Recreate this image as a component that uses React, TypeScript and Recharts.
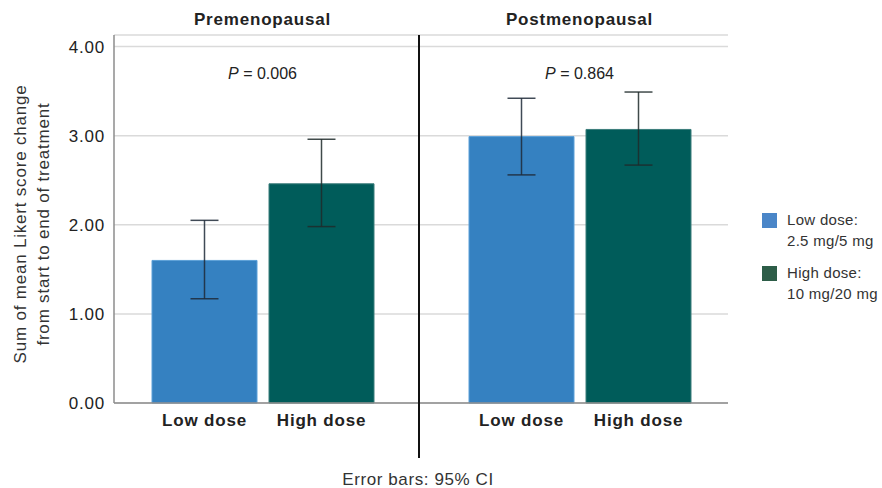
import { BarChart, Bar, XAxis, YAxis, CartesianGrid, ErrorBar, LabelList, Legend, ReferenceDot, ReferenceLine } from "recharts";

const groups = ["Premenopausal", "Postmenopausal"];
const doseLabels = ["Low dose", "High dose"];
const doseDetails = ["2.5 mg/5 mg", "10 mg/20 mg"];
const lowMeans = [1.6, 2.99];
const lowCiLower = [1.17, 2.56];
const lowCiUpper = [2.05, 3.42];
const highMeans = [2.46, 3.07];
const highCiLower = [1.98, 2.67];
const highCiUpper = [2.96, 3.49];
const pValues = ["0.006", "0.864"];
const yTicks = [0, 1, 2, 3, 4];
const yMax = 4.13;
const pLabelY = 3.7;

const FONT = "'Liberation Sans', Arial, Helvetica, sans-serif";
const barColors = ["#3581c1", "#005c5a"];
const barEdges = ["#5b9fd8", "#3b7d7b"];
const legendColors = ["#4a86c8", "#2d5d48"];

const data = groups.map((group, i) => ({
  group,
  low: lowMeans[i],
  lowErr: [lowMeans[i] - lowCiLower[i], lowCiUpper[i] - lowMeans[i]],
  high: highMeans[i],
  highErr: [highMeans[i] - highCiLower[i], highCiUpper[i] - highMeans[i]],
}));

function GroupTick(props: any) {
  const { x, y, payload } = props;
  return (
    <text x={x} y={y - 10} textAnchor="middle" fontFamily={FONT} fontSize={17} fontWeight="bold" fill="#222" style={{ letterSpacing: 0.8 }}>
      {payload.value}
    </text>
  );
}

const doseLabel = (text: string) => (props: any) => {
  const vb = props.viewBox ?? props;
  const x = Number(vb.x);
  const y = Number(vb.y);
  const w = Number(vb.width);
  const h = Number(vb.height);
  return (
    <text x={x + w / 2} y={y + h + 23} textAnchor="middle" fontFamily={FONT} fontSize={17} fontWeight="bold" fill="#222" style={{ letterSpacing: 0.8 }}>
      {text}
    </text>
  );
};

const pLabel = (p: string) => (props: any) => {
  const vb = props.viewBox;
  const cx = vb.x + vb.width / 2;
  const cy = vb.y + vb.height / 2;
  return (
    <text x={cx} y={cy + 5.5} textAnchor="middle" fontFamily={FONT} fontSize={16} fill="#222">
      <tspan fontStyle="italic">P</tspan> = {p}
    </text>
  );
};

function YLabel() {
  const cy = 224;
  const style = { letterSpacing: 0.8 };
  return (
    <g fontFamily={FONT} fontSize={17} fill="#333">
      <text x={20} y={cy} textAnchor="middle" dominantBaseline="central" transform={`rotate(-90 20 ${cy})`} style={style}>
        Sum of mean Likert score change
      </text>
      <text x={43} y={cy} textAnchor="middle" dominantBaseline="central" transform={`rotate(-90 43 ${cy})`} style={style}>
        from start to end of treatment
      </text>
    </g>
  );
}

function LegendBox() {
  return (
    <div style={{ fontFamily: FONT, fontSize: 15, color: "#333", letterSpacing: 0.3 }}>
      {doseLabels.map((label, i) => (
        <div key={label} style={{ display: "flex", alignItems: "flex-start", marginBottom: 11 }}>
          <div style={{ width: 15, height: 15, background: legendColors[i], marginTop: 4, marginRight: 10, flexShrink: 0 }} />
          <div style={{ lineHeight: "21px" }}>
            {label}:
            <br />
            {doseDetails[i]}
          </div>
        </div>
      ))}
    </div>
  );
}

export default function App() {
  return (
    <div style={{ position: "absolute", left: 0, top: 0, width: 882, height: 488, background: "#fff" }}>
      <BarChart
        width={882}
        height={488}
        data={data}
        margin={{ top: 0, right: 154, bottom: 85, left: 0 }}
        barSize={105}
        barGap={12}
      >
        <CartesianGrid vertical={false} stroke="#dadada" strokeWidth={1.5} />
        <XAxis
          dataKey="group"
          orientation="top"
          height={35}
          axisLine={false}
          tickLine={false}
          tickSize={0}
          tickMargin={0}
          padding={{ left: -10, right: -10 }}
          tick={<GroupTick />}
        />
        <YAxis
          width={114}
          domain={[0, yMax]}
          ticks={yTicks}
          tickFormatter={(v: number) => v.toFixed(2)}
          tickLine={false}
          tickSize={0}
          tickMargin={9}
          axisLine={{ stroke: "#8c8c8c", strokeWidth: 1.5 }}
          tick={{ fontSize: 17, fill: "#222", fontFamily: FONT, style: { letterSpacing: 0.8 } }}
          label={{ content: () => <YLabel /> }}
        />
        <ReferenceLine y={0} stroke="#8c8c8c" strokeWidth={1.5} />
        <Bar dataKey="low" name={doseLabels[0]} fill={barColors[0]} stroke={barEdges[0]} strokeWidth={1} isAnimationActive={false}>
          <ErrorBar dataKey="lowErr" width={14} stroke="#1f2a38" strokeOpacity={0.85} strokeWidth={1.5} />
          <LabelList dataKey="low" content={doseLabel(doseLabels[0])} />
        </Bar>
        <Bar dataKey="high" name={doseLabels[1]} fill={barColors[1]} stroke={barEdges[1]} strokeWidth={1} isAnimationActive={false}>
          <ErrorBar dataKey="highErr" width={14} stroke="#1f2a2a" strokeOpacity={0.85} strokeWidth={1.5} />
          <LabelList dataKey="high" content={doseLabel(doseLabels[1])} />
        </Bar>
        {groups.map((g, i) => (
          <ReferenceDot key={g} x={g} y={pLabelY} r={1} fill="none" stroke="none" label={{ content: pLabel(pValues[i]) }} />
        ))}
        <Legend
          layout="vertical"
          align="center"
          verticalAlign="middle"
          wrapperStyle={{ left: 762, top: 209, width: 120 }}
          content={() => <LegendBox />}
        />
      </BarChart>
      <svg width={882} height={488} style={{ position: "absolute", left: 0, top: 0, pointerEvents: "none" }}>
        <line x1={419} y1={35} x2={419} y2={458} stroke="#111" strokeWidth={2} />
        <text x={418} y={485} textAnchor="middle" fontFamily={FONT} fontSize={17} fill="#333" style={{ letterSpacing: 0.6 }}>
          Error bars: 95% CI
        </text>
      </svg>
    </div>
  );
}
